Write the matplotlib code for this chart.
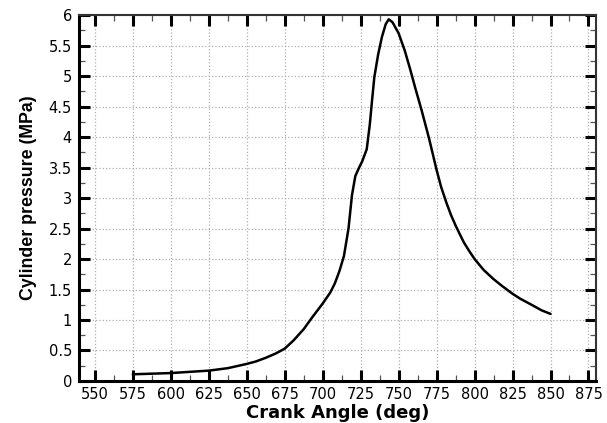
import matplotlib
matplotlib.use("Agg")
import matplotlib.pyplot as plt
from matplotlib.ticker import MultipleLocator

crank_angle = [575, 587.5, 600, 612.5, 625, 637.5, 650, 656, 662.5, 669, 675, 681, 687.5,
               693, 700, 705, 708, 711, 714, 717, 719.3, 721.5,
               724, 726, 729, 731, 732.5, 734, 736.5, 739, 741.5, 743.5, 746, 750, 754,
               757.5, 761, 765, 770, 772.5, 775, 778, 781.5, 784.5, 787.5, 790, 793, 796.5, 800,
               806, 812.5, 818, 825, 830, 837.5, 844, 850]
pressure = [0.11, 0.12, 0.13, 0.15, 0.17, 0.21, 0.28, 0.32, 0.38, 0.45, 0.53, 0.67, 0.85,
            1.04, 1.27, 1.45, 1.6, 1.8, 2.05, 2.5, 3.05, 3.36,
            3.5, 3.6, 3.8, 4.2, 4.6, 4.98, 5.35, 5.64, 5.85, 5.93, 5.88, 5.70, 5.42,
            5.12, 4.8, 4.45, 3.98, 3.72, 3.46, 3.18, 2.92, 2.72, 2.55, 2.42, 2.27, 2.13, 2.0,
            1.82, 1.67, 1.56, 1.43, 1.35, 1.25, 1.16, 1.1]

plt.rcParams['font.family'] = ['DejaVu Sans']

fig = plt.figure(figsize=(6.07, 4.23), dpi=100)
ax = fig.add_axes([0.130, 0.0993, 0.852, 0.8652])

ax.plot(crank_angle, pressure, color='black', lw=1.8, solid_capstyle='round',
        solid_joinstyle='round')

ax.set_xlim(539.5, 880)
ax.set_ylim(0, 6)
ax.xaxis.set_minor_locator(MultipleLocator(12.5))
ax.yaxis.set_minor_locator(MultipleLocator(0.25))
xt = list(range(550, 876, 25))
ax.set_xticks(xt)
ax.set_xticklabels([str(v) for v in xt])
yt = [i * 0.5 for i in range(13)]
ax.set_yticks(yt)
ax.set_yticklabels(['%g' % v for v in yt])

ax.grid(True, which='major', color='#b0b0b0', linestyle=':', linewidth=0.9)
ax.tick_params(which='major', direction='in', length=8, width=2.2, top=True, right=True,
               labelsize=10.5, colors='black')
ax.tick_params(axis='x', which='major', pad=4)
ax.tick_params(axis='y', which='major', pad=5)
ax.tick_params(which='minor', direction='in', length=4, width=0.9, top=True, right=True,
               colors='#555555')
for side in ['left', 'bottom']:
    ax.spines[side].set_linewidth(2.2)
for side in ['top', 'right']:
    ax.spines[side].set_linewidth(1.5)
    ax.spines[side].set_color('#333333')

ax.set_xlabel('Crank Angle (deg)', fontsize=13, fontweight='bold', labelpad=2)
ax.set_ylabel('Cylinder pressure (MPa)', fontsize=12.8, fontweight='bold', labelpad=8,
              family=['Liberation Sans', 'DejaVu Sans'])

fig.savefig('out.png', dpi=100)
